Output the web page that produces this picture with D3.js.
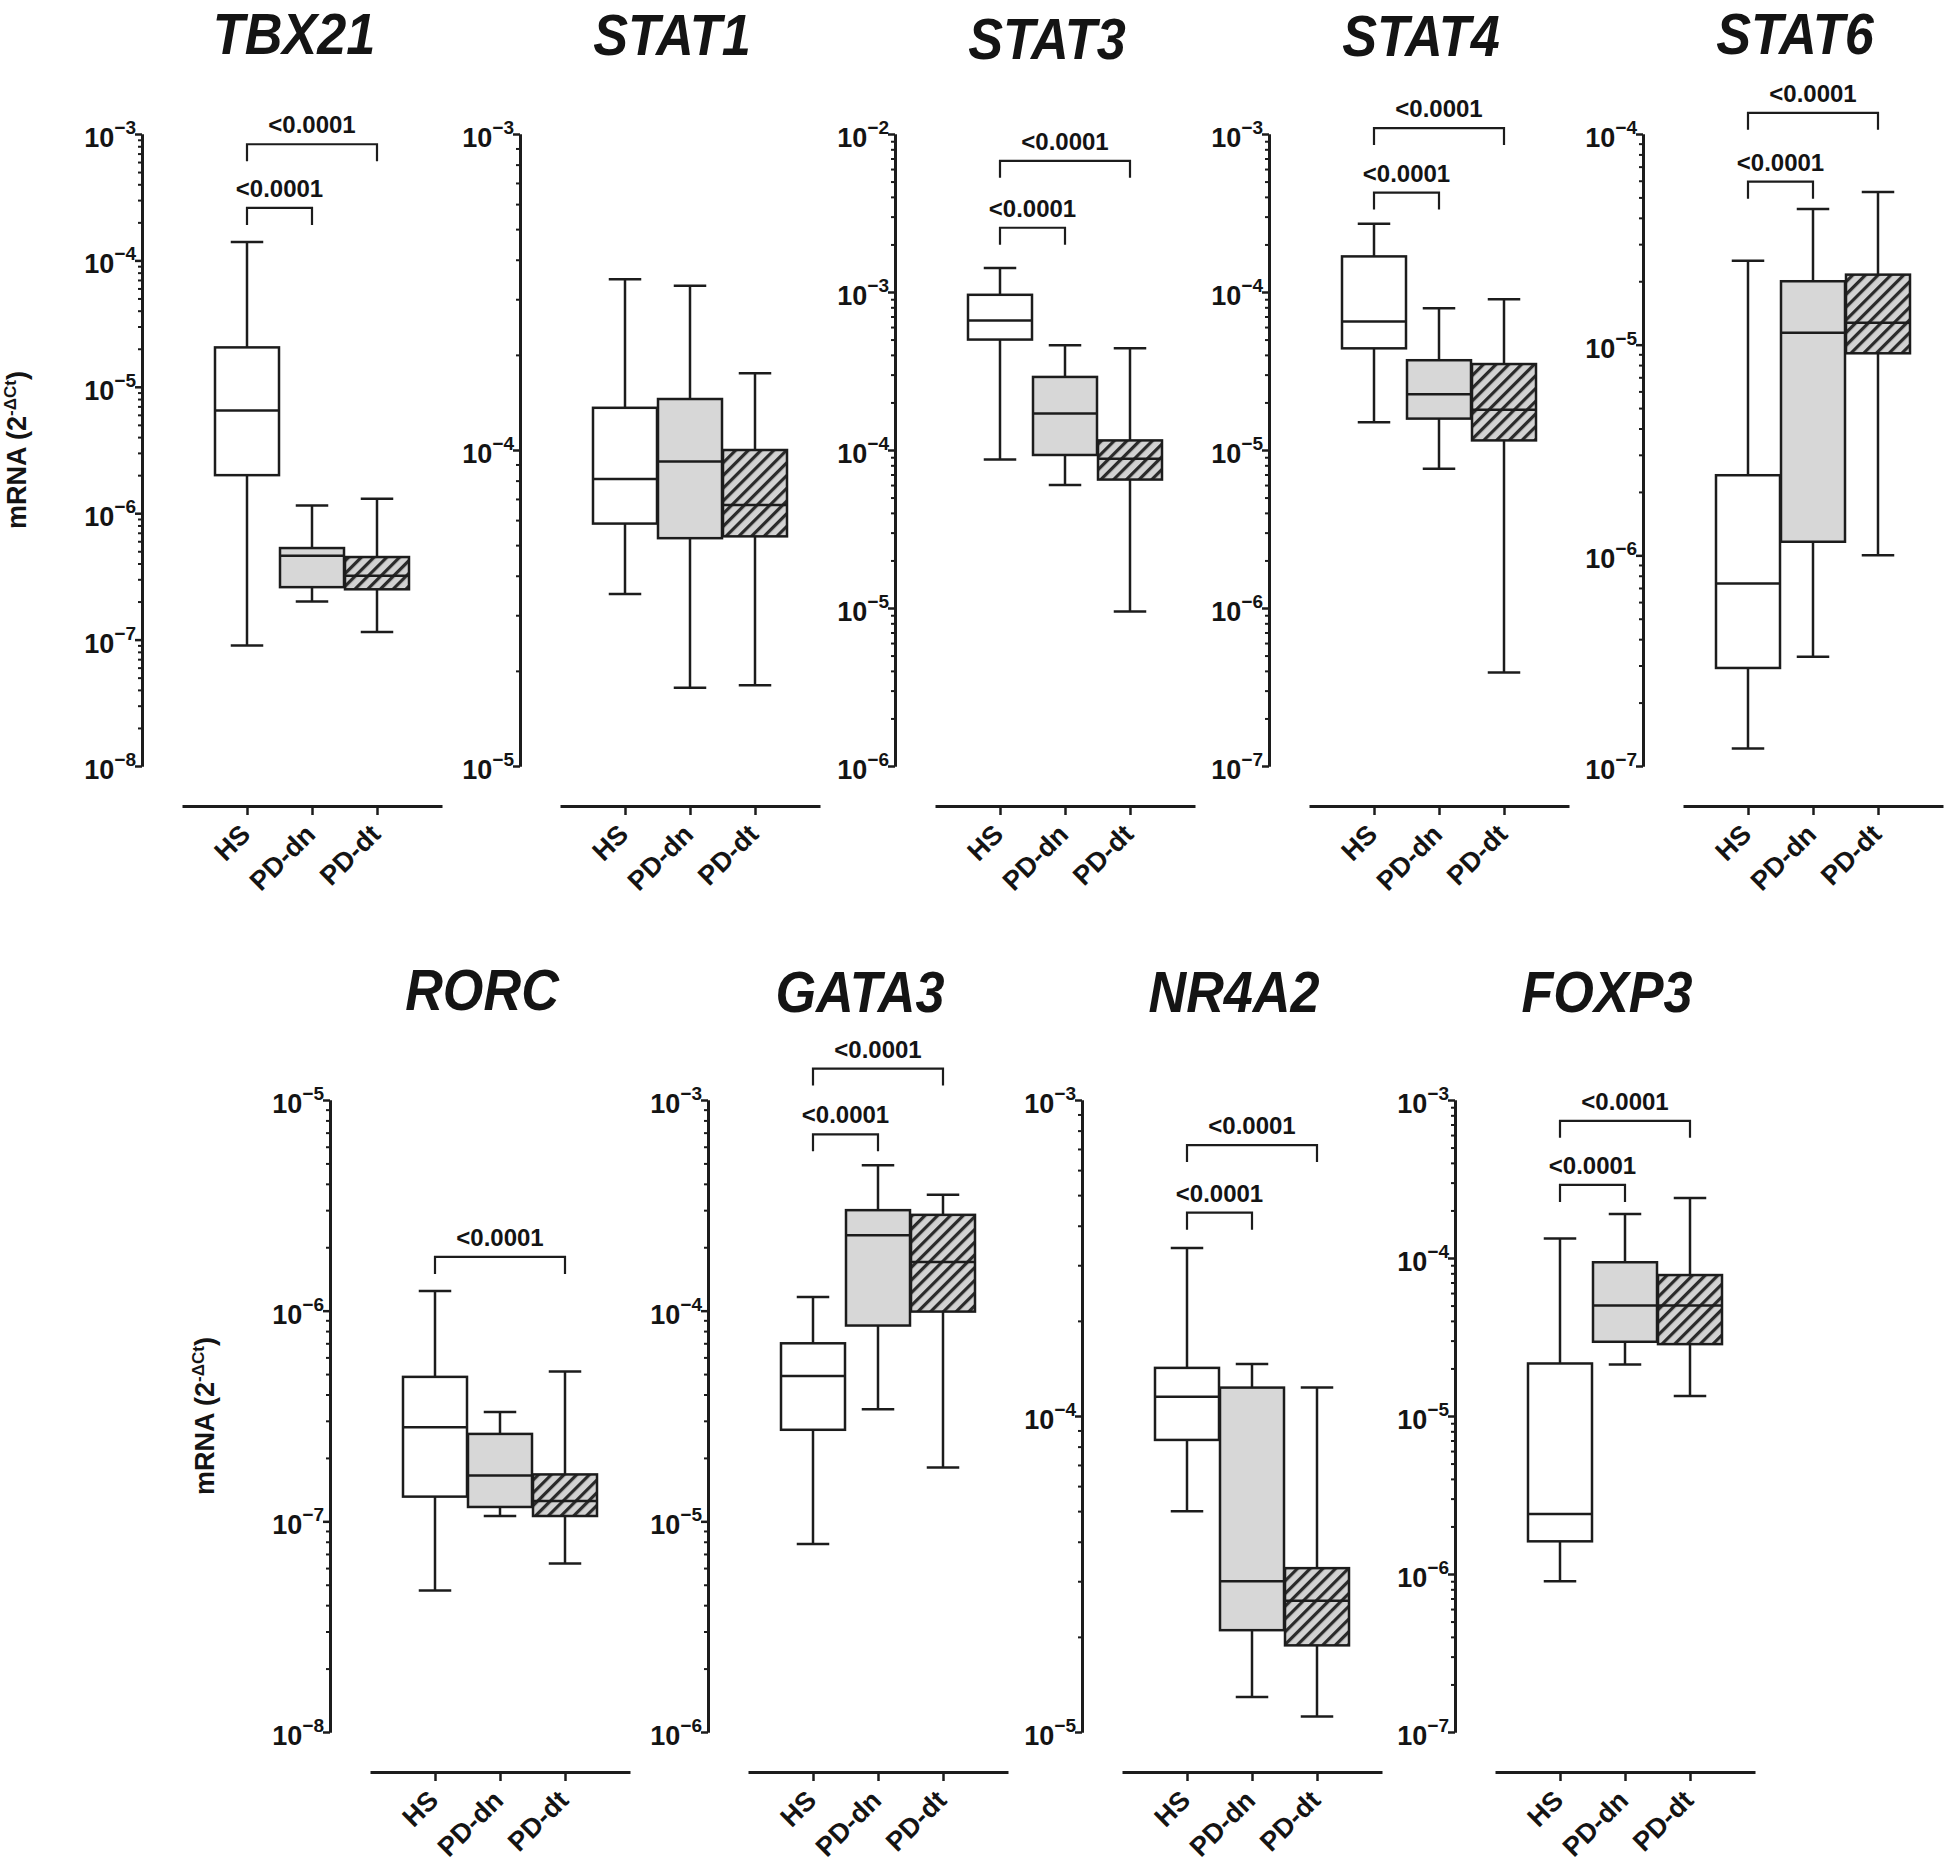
<!DOCTYPE html>
<html><head><meta charset="utf-8">
<script src="https://cdn.jsdelivr.net/npm/d3@7"></script>
<style>
body{margin:0;background:#fff}
text{font-family:"Liberation Sans",Arial,Helvetica,sans-serif;font-weight:bold;fill:#141414}
</style>
</head><body>
<script>
// ---------- DATA ----------
const genes = ["TBX21","STAT1","STAT3","STAT4","STAT6","RORC","GATA3","NR4A2","FOXP3"];
const groups = ["HS","PD-dn","PD-dt"];
// five-number summaries per group: [min, Q1, median, Q3, max]  (mRNA, 2^-ΔCt)
const TBX21 = [[9.0e-8,2.0e-6,6.5e-6,2.05e-5,1.4e-4],[2.0e-7,2.6e-7,4.6e-7,5.3e-7,1.15e-6],[1.15e-7,2.5e-7,3.2e-7,4.5e-7,1.3e-6]];
const STAT1 = [[3.5e-5,5.85e-5,8.1e-5,1.36e-4,3.47e-4],[1.77e-5,5.26e-5,9.2e-5,1.45e-4,3.31e-4],[1.8e-5,5.33e-5,6.7e-5,1.0e-4,1.75e-4]];
const STAT3 = [[8.7e-5,5.0e-4,6.6e-4,9.6e-4,1.42e-3],[6.0e-5,9.3e-5,1.7e-4,2.9e-4,4.6e-4],[9.5e-6,6.5e-5,8.8e-5,1.15e-4,4.4e-4]];
const STAT4 = [[1.5e-5,4.4e-5,6.5e-5,1.68e-4,2.7e-4],[7.6e-6,1.58e-5,2.25e-5,3.7e-5,7.9e-5],[3.9e-7,1.15e-5,1.8e-5,3.5e-5,9.0e-5]];
const STAT6 = [[1.21e-7,2.92e-7,7.35e-7,2.4e-6,2.5e-5],[3.3e-7,1.16e-6,1.14e-5,2.0e-5,4.4e-5],[1.0e-6,9.1e-6,1.27e-5,2.15e-5,5.3e-5]];
const RORC  = [[4.7e-8,1.31e-7,2.8e-7,4.85e-7,1.24e-6],[1.06e-7,1.17e-7,1.65e-7,2.6e-7,3.3e-7],[6.3e-8,1.06e-7,1.25e-7,1.67e-7,5.15e-7]];
const GATA3 = [[7.8e-6,2.72e-5,4.9e-5,7.0e-5,1.16e-4],[3.4e-5,8.5e-5,2.28e-4,3.0e-4,4.9e-4],[1.8e-5,9.9e-5,1.7e-4,2.85e-4,3.55e-4]];
const NR4A2 = [[5.0e-5,8.4e-5,1.15e-4,1.42e-4,3.4e-4],[1.29e-5,2.1e-5,3.0e-5,1.23e-4,1.46e-4],[1.12e-5,1.88e-5,2.6e-5,3.3e-5,1.23e-4]];
const FOXP3 = [[9.0e-7,1.61e-6,2.4e-6,2.15e-5,1.33e-4],[2.12e-5,2.95e-5,5.0e-5,9.4e-5,1.9e-4],[1.34e-5,2.85e-5,5.0e-5,7.8e-5,2.4e-4]];
const summaries = [TBX21,STAT1,STAT3,STAT4,STAT6,RORC,GATA3,NR4A2,FOXP3];
// y axis decades (10^min .. 10^max)
const axisMinExp = [-8,-5,-6,-7,-7,-8,-6,-5,-7];
const axisMaxExp = [-3,-3,-2,-3,-4,-5,-3,-3,-3];
// significance brackets
const bracketGene  = ["TBX21","TBX21","STAT3","STAT3","STAT4","STAT4","STAT6","STAT6","RORC","GATA3","GATA3","NR4A2","NR4A2","FOXP3","FOXP3"];
const bracketFrom  = ["HS","HS","HS","HS","HS","HS","HS","HS","HS","HS","HS","HS","HS","HS","HS"];
const bracketTo    = ["PD-dn","PD-dt","PD-dn","PD-dt","PD-dn","PD-dt","PD-dn","PD-dt","PD-dt","PD-dn","PD-dt","PD-dn","PD-dt","PD-dn","PD-dt"];
const bracketLevel = [2.6e-4,8.3e-4,2.55e-3,6.76e-3,4.26e-4,1.09e-3,5.94e-5,1.26e-4,1.8e-6,6.87e-4,1.41e-3,4.4e-4,7.2e-4,2.9e-4,7.38e-4];
const bracketText  = ["<0.0001","<0.0001","<0.0001","<0.0001","<0.0001","<0.0001","<0.0001","<0.0001","<0.0001","<0.0001","<0.0001","<0.0001","<0.0001","<0.0001","<0.0001"];
const yAxisTitle = "mRNA (2";
const yAxisTitleSup = "-\u0394Ct";

// ---------- LAYOUT ----------
const W = 1946, H = 1865;
const panelAxisX = [142,520,895,1269,1643,330,708,1082,1455];
const panelRow   = [0,0,0,0,0,1,1,1,1];
const rowTop = [134,1100], rowBottom = [766,1732];
const titleBaseline = [54,55,59,56,54,1010,1012,1012,1012];
const ink = "#1c1c1c";

const svg = d3.select("body").append("svg").attr("width",W).attr("height",H);
const defs = svg.append("defs");
const pat = defs.append("pattern").attr("id","hatch").attr("patternUnits","userSpaceOnUse")
  .attr("width",9).attr("height",9).attr("patternTransform","rotate(45)");
pat.append("rect").attr("width",9).attr("height",9).attr("fill","#d2d2d2");
pat.append("line").attr("x1",1.5).attr("y1",0).attr("x2",1.5).attr("y2",9).attr("stroke","#2a2a2a").attr("stroke-width",3.4);
const fills = ["#ffffff","#d7d7d7","url(#hatch)"];

genes.forEach((gene,i)=>{
  const ax = panelAxisX[i], row = panelRow[i];
  const top = rowTop[row], bottom = rowBottom[row];
  const g = svg.append("g");
  const y = d3.scaleLog().domain([10**axisMinExp[i],10**axisMaxExp[i]]).range([bottom,top]);
  const x = d3.scalePoint().domain(groups).range([ax+40,ax+300]).padding(1);
  const step = x.step();
  const boxW = step - 1, capW = step/2;

  // title
  g.append("text").attr("transform",`translate(${ax+152},${titleBaseline[i]}) scale(0.9,1)`)
    .attr("text-anchor","middle").style("font-size","58px").style("font-style","italic").text(gene);

  // y axis
  const majors = d3.range(axisMinExp[i],axisMaxExp[i]+1).map(e=>10**e);
  const minors = [];
  for(let e=axisMinExp[i]; e<axisMaxExp[i]; e++) for(let m=2;m<=9;m++) minors.push(m*10**e);
  const yAx = g.append("g").attr("transform",`translate(${ax},0)`);
  yAx.call(d3.axisLeft(y).tickValues(minors).tickSize(4).tickSizeOuter(0).tickFormat(""));
  yAx.selectAll(".tick line").attr("stroke",ink).attr("stroke-width",2);
  const yMaj = g.append("g").attr("transform",`translate(${ax},0)`);
  yMaj.call(d3.axisLeft(y).tickValues(majors).tickSize(7).tickSizeOuter(0).tickFormat(""));
  yMaj.selectAll(".tick line").attr("stroke",ink).attr("stroke-width",2.5);
  g.selectAll(".domain").attr("stroke",ink).attr("stroke-width",3);
  majors.forEach((v,k)=>{
    const e = axisMinExp[i]+k;
    const t = g.append("text").attr("x",ax-6).attr("y",y(v)+13).attr("text-anchor","end").style("font-size","27px");
    t.append("tspan").text("10");
    t.append("tspan").attr("dy",-13).style("font-size","19px").text("\u2212"+Math.abs(e));
  });

  // y title on first panel of each row
  if (i===0 || i===5){
    const yt = g.append("text").attr("transform",`translate(${ax-116},${(top+bottom)/2}) rotate(-90)`)
      .attr("text-anchor","middle").style("font-size","27px");
    yt.append("tspan").text(yAxisTitle);
    yt.append("tspan").attr("dy",-10).style("font-size","17px").text(yAxisTitleSup);
    yt.append("tspan").attr("dy",10).text(")");
  }

  // x axis
  const xAxisY = bottom + 40;
  const xAx = g.append("g").attr("transform",`translate(0,${xAxisY})`)
    .call(d3.axisBottom(x).tickSize(9).tickSizeOuter(0).tickFormat(""));
  xAx.select(".domain").attr("stroke",ink).attr("stroke-width",3);
  xAx.selectAll(".tick line").attr("stroke",ink).attr("stroke-width",2.5);
  groups.forEach(gr=>{
    g.append("text").attr("transform",`translate(${x(gr)+5},${xAxisY+30}) rotate(-45)`)
      .attr("text-anchor","end").style("font-size","27px").text(gr);
  });

  // boxes
  summaries[i].forEach((s,k)=>{
    const cx = x(groups[k]);
    const [mn,q1,md,q3,mx] = s;
    const b = g.append("g").attr("stroke",ink).attr("stroke-width",2.5).attr("fill","none");
    b.append("line").attr("x1",cx).attr("x2",cx).attr("y1",y(mx)).attr("y2",y(q3));
    b.append("line").attr("x1",cx).attr("x2",cx).attr("y1",y(q1)).attr("y2",y(mn));
    b.append("line").attr("x1",cx-capW/2).attr("x2",cx+capW/2).attr("y1",y(mx)).attr("y2",y(mx));
    b.append("line").attr("x1",cx-capW/2).attr("x2",cx+capW/2).attr("y1",y(mn)).attr("y2",y(mn));
    b.append("rect").attr("x",cx-boxW/2).attr("width",boxW).attr("y",y(q3)).attr("height",y(q1)-y(q3)).attr("fill",fills[k]);
    b.append("line").attr("x1",cx-boxW/2).attr("x2",cx+boxW/2).attr("y1",y(md)).attr("y2",y(md));
  });

  // brackets
  bracketGene.forEach((bg,j)=>{
    if (bg!==gene) return;
    const x1 = x(bracketFrom[j]), x2 = x(bracketTo[j]), by = y(bracketLevel[j]);
    g.append("path").attr("d",`M${x1},${by+17}V${by}H${x2}V${by+17}`)
      .attr("fill","none").attr("stroke",ink).attr("stroke-width",2.2);
    g.append("text").attr("x",(x1+x2)/2).attr("y",by-11).attr("text-anchor","middle")
      .style("font-size","24px").text(bracketText[j]);
  });
});
</script>
</body></html>
